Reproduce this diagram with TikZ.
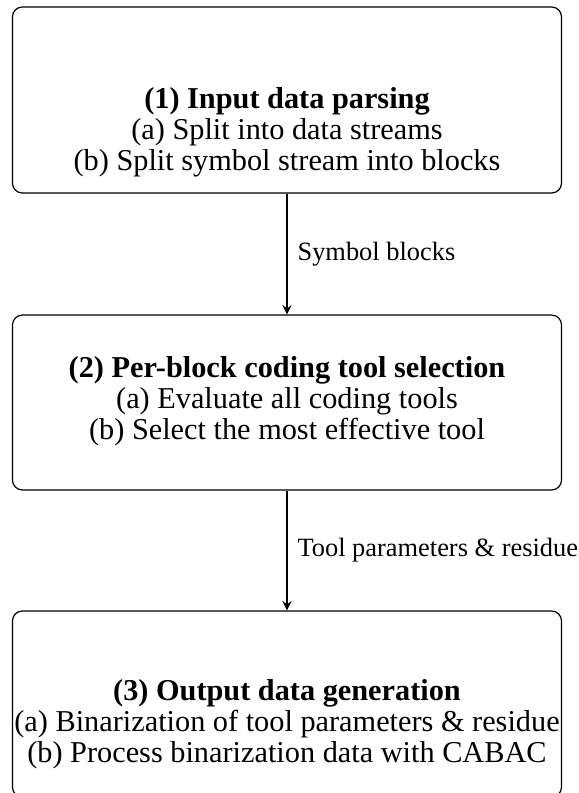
\documentclass[tikz,border=0pt]{standalone}
\usepackage{fontspec}
\setmainfont{Liberation Serif}
\usetikzlibrary{positioning}

\begin{document}
\begin{tikzpicture}[x=0.3333pt,y=-0.3333pt,>=stealth,
		stage/.style={draw,rounded corners=3.3pt,minimum width=183pt,minimum height=62pt,inner sep=0pt},
		stagetext/.style={align=center,inner sep=0pt,font=\fontsize{10.1pt}{10.4pt}\selectfont},
		flowlabel/.style={right,font=\fontsize{8.8pt}{10pt}\selectfont},
		flow/.style={->,line width=0.4pt}]
				\clip (0,0) rectangle (579,793);
				% boxes
				\node[stage] (parse) at (287,100) {};
				\node[stage,minimum height=58.3pt] (select) at (287,402.5) {};
				\node[stage] (output) at (287,704) {};
				% box texts
				\node[stagetext] (parsetext) at (287,132) {\textbf{(1) Input data parsing}\\(a) Split into data streams\\(b) Split symbol stream into blocks};
				\node[stagetext] (selecttext) at (287,401) {\textbf{(2) Per-block coding tool selection}\\(a) Evaluate all coding tools\\(b) Select the most effective tool};
				\node[stagetext] (outputtext) at (287,724) {\textbf{(3) Output data generation}\\(a) Binarization of tool parameters \& residue\\(b) Process binarization data with CABAC};
				% connectors
				\draw[flow] (parse) -- node[flowlabel]{Symbol blocks} (select);
				\draw[flow] (select) -- node[flowlabel]{Tool parameters \& residue} (output);
			\end{tikzpicture}
\end{document}
